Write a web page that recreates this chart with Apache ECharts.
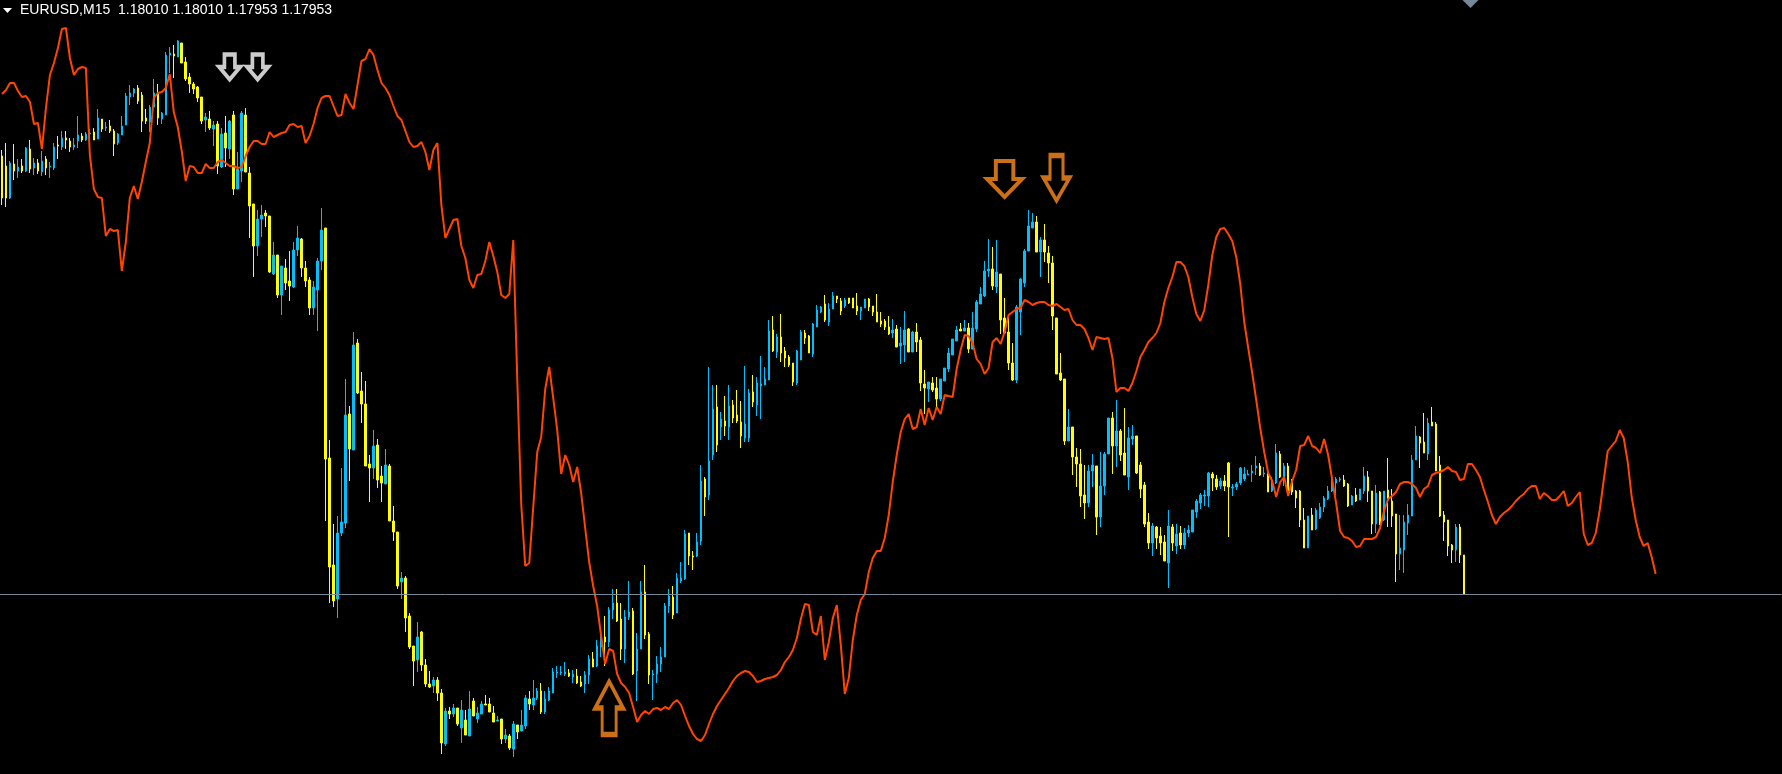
<!DOCTYPE html>
<html>
<head>
<meta charset="utf-8">
<script src="https://cdn.jsdelivr.net/npm/echarts@6/dist/echarts.min.js"></script>
<style>
  html, body { margin: 0; padding: 0; background: #000; }
  #chart { width: 1782px; height: 774px; }
</style>
</head>
<body>
<div id="chart"></div>
<script>
// Prices are stored in points (0.00001) above 1.17000.
const symbolTitle = 'EURUSD,M15  1.18010 1.18010 1.17953 1.17953';

const openPts = [1391,1381,1349,1383,1376,1381,1376,1398,1379,1384,1375,1388,1380,1379,1402,1400,1409,1406,1400,1406,1411,1407,1413,1415,1408,1428,1419,1421,1416,1404,1412,1422,1450,1454,1459,1452,1429,1425,1440,1454,1428,1432,1492,1493,1490,1504,1485,1470,1463,1460,1450,1427,1428,1418,1423,1380,1414,1398,1432,1358,1376,1432,1374,1343,1301,1328,1334,1331,1273,1292,1252,1279,1266,1260,1297,1308,1279,1267,1239,1257,1286,1319,1089,982,948,1014,1024,1133,1097,1204,1156,1143,1083,1079,1102,1071,1063,1081,1026,1015,965,969,931,901,887,915,882,863,861,867,854,803,836,833,839,819,827,811,846,828,833,843,843,834,826,828,808,811,798,822,816,821,848,842,849,856,835,847,854,874,874,873,874,870,871,865,863,872,888,881,900,910,905,937,944,928,898,930,936,876,898,955,913,872,873,883,890,941,950,934,966,968,1014,991,991,1006,1068,1052,1092,1140,1120,1126,1120,1142,1132,1125,1109,1109,1155,1142,1161,1162,1167,1217,1195,1210,1196,1190,1184,1164,1187,1214,1211,1193,1220,1235,1243,1225,1238,1251,1246,1241,1249,1249,1241,1236,1239,1248,1241,1235,1226,1226,1220,1214,1218,1201,1202,1218,1195,1215,1207,1163,1158,1164,1159,1148,1166,1178,1192,1206,1218,1216,1219,1198,1218,1243,1251,1276,1278,1260,1273,1229,1215,1184,1167,1235,1264,1296,1319,1325,1295,1307,1294,1284,1229,1174,1168,1106,1120,1090,1083,1052,1044,1076,1081,1030,1061,1093,1129,1101,1116,1094,1070,1108,1111,1082,1062,1025,1004,1020,1011,1005,984,1020,1001,1014,1002,1014,1015,1035,1044,1051,1051,1073,1068,1061,1066,1084,1059,1060,1064,1068,1072,1074,1079,1081,1073,1074,1056,1064,1093,1070,1081,1067,1056,1056,1027,999,1032,1018,1029,1040,1048,1056,1064,1067,1067,1063,1042,1052,1047,1056,1070,1056,1023,1055,1027,1057,1046,1033,993,997,1024,1031,1087,1110,1105,1093,1125,1123,1082,1032,1027,1002,997,1020,992];

const closePts = [1349,1349,1384,1376,1380,1376,1399,1378,1384,1376,1386,1379,1381,1400,1401,1409,1407,1400,1402,1412,1407,1413,1414,1407,1429,1418,1420,1416,1403,1413,1421,1451,1454,1458,1446,1426,1426,1440,1454,1429,1434,1492,1494,1491,1506,1484,1468,1463,1458,1449,1426,1430,1419,1422,1381,1413,1399,1426,1358,1378,1434,1375,1341,1301,1328,1332,1331,1275,1292,1252,1281,1264,1261,1297,1309,1279,1266,1239,1260,1286,1317,1088,980,946,1014,1025,1132,1098,1202,1154,1143,1081,1079,1101,1067,1064,1082,1026,1015,961,969,929,900,886,910,882,863,860,867,854,804,836,833,839,823,837,812,838,831,834,843,842,835,825,827,808,812,799,823,815,822,849,843,849,856,835,848,856,875,875,875,875,871,873,864,861,872,888,880,901,907,905,937,944,926,898,930,935,873,898,955,912,872,873,883,890,941,951,932,969,969,1013,991,990,1005,1066,1050,1086,1138,1102,1128,1121,1141,1129,1126,1111,1123,1154,1145,1164,1163,1168,1216,1196,1210,1194,1189,1182,1165,1196,1215,1209,1194,1223,1237,1240,1227,1238,1251,1248,1236,1247,1244,1239,1236,1240,1248,1240,1235,1225,1223,1220,1213,1217,1200,1204,1217,1195,1215,1205,1164,1159,1165,1157,1148,1168,1179,1194,1208,1217,1216,1219,1198,1219,1245,1253,1276,1278,1261,1275,1227,1214,1184,1167,1240,1268,1296,1321,1325,1295,1307,1295,1284,1231,1173,1167,1106,1120,1090,1083,1051,1044,1076,1082,1030,1061,1093,1129,1101,1116,1092,1072,1109,1111,1074,1058,1023,1004,1021,1009,1004,986,1021,1004,1013,1002,1014,1017,1037,1046,1052,1052,1074,1069,1060,1066,1061,1060,1060,1063,1079,1073,1073,1076,1081,1072,1074,1055,1067,1094,1070,1081,1056,1055,1049,1027,999,1031,1017,1037,1040,1049,1056,1066,1068,1068,1061,1041,1051,1046,1058,1071,1056,1023,1054,1023,1056,1047,1031,993,999,1025,1032,1087,1111,1104,1094,1124,1121,1076,1031,1025,1001,997,1020,992,953];

const lowPts = [1342,1340,1348,1367,1369,1374,1375,1374,1372,1373,1371,1372,1369,1377,1388,1397,1398,1395,1397,1399,1405,1406,1407,1407,1408,1415,1416,1414,1391,1402,1412,1422,1442,1450,1443,1415,1423,1415,1440,1422,1423,1432,1474,1469,1490,1484,1466,1454,1453,1445,1423,1415,1417,1401,1373,1379,1380,1388,1352,1358,1365,1375,1309,1270,1291,1310,1320,1274,1272,1249,1232,1257,1246,1259,1291,1270,1260,1232,1232,1216,1277,1026,944,940,929,1011,1019,1066,1097,1153,1124,1081,1045,1068,1059,1045,1063,1026,1006,958,948,915,898,861,875,876,860,859,854,846,793,801,828,830,821,804,812,811,831,824,833,842,835,825,826,803,804,797,790,808,816,818,837,837,847,833,833,846,854,869,872,871,870,864,863,860,854,863,880,880,890,881,900,928,925,887,884,927,872,846,898,908,863,847,864,875,890,934,928,934,964,967,982,977,990,1002,1031,1047,1087,1095,1107,1111,1107,1124,1124,1099,1105,1105,1140,1131,1128,1162,1167,1195,1189,1185,1180,1180,1161,1162,1187,1203,1194,1190,1220,1234,1225,1221,1238,1244,1232,1239,1243,1239,1232,1227,1239,1236,1231,1225,1220,1217,1212,1209,1200,1183,1185,1195,1195,1195,1156,1133,1145,1155,1140,1146,1166,1175,1192,1206,1216,1216,1194,1198,1215,1243,1250,1270,1257,1254,1213,1214,1177,1166,1164,1212,1260,1296,1319,1295,1270,1285,1264,1217,1173,1166,1102,1106,1072,1060,1040,1028,1040,1060,1012,1020,1052,1093,1073,1080,1086,1072,1057,1102,1073,1049,1020,998,991,998,992,986,959,996,993,998,998,1010,1015,1029,1038,1041,1040,1056,1057,1058,1056,1010,1051,1057,1062,1066,1072,1065,1072,1071,1070,1055,1055,1063,1069,1061,1052,1052,1039,1020,999,999,1017,1017,1028,1035,1047,1055,1052,1065,1060,1040,1042,1045,1047,1053,1045,1013,1014,1022,1026,1020,1020,965,977,974,1012,1031,1087,1079,1094,1087,1121,1076,1030,1006,991,984,985,984,953];

const highPts = [1397,1404,1386,1403,1388,1388,1400,1407,1389,1388,1396,1391,1385,1404,1411,1416,1416,1409,1409,1431,1414,1415,1418,1419,1438,1428,1425,1427,1418,1414,1431,1454,1462,1459,1462,1455,1438,1442,1468,1463,1435,1495,1500,1502,1507,1504,1490,1474,1465,1461,1450,1434,1436,1426,1426,1419,1431,1427,1436,1395,1436,1439,1380,1343,1337,1342,1337,1331,1305,1292,1281,1288,1296,1305,1321,1309,1286,1270,1266,1289,1339,1319,1107,1023,1031,1079,1168,1141,1215,1208,1175,1166,1092,1117,1108,1081,1098,1083,1041,1015,975,971,934,901,925,916,888,876,870,870,858,839,840,843,839,847,837,856,849,840,846,852,849,841,831,828,818,813,826,822,837,852,856,867,859,864,856,860,879,881,881,885,878,877,878,871,876,892,895,907,919,931,940,958,958,944,937,966,939,914,966,982,915,877,891,900,944,958,961,974,985,1017,1014,996,1014,1082,1070,1180,1162,1162,1135,1151,1162,1147,1157,1146,1181,1158,1172,1170,1191,1180,1227,1231,1213,1233,1200,1192,1184,1197,1217,1217,1212,1224,1242,1241,1252,1244,1255,1251,1249,1249,1249,1249,1254,1240,1248,1249,1241,1253,1235,1228,1231,1228,1222,1220,1236,1219,1216,1224,1210,1177,1165,1170,1170,1168,1179,1199,1208,1221,1224,1227,1224,1235,1247,1260,1286,1308,1300,1307,1273,1249,1230,1204,1242,1269,1298,1337,1334,1331,1310,1323,1301,1291,1229,1194,1168,1138,1120,1099,1098,1082,1082,1093,1081,1095,1095,1129,1135,1147,1118,1139,1120,1122,1111,1085,1065,1034,1024,1021,1020,1012,1037,1023,1023,1021,1019,1022,1037,1048,1054,1057,1075,1075,1072,1069,1072,1085,1063,1065,1080,1080,1077,1082,1091,1084,1080,1075,1070,1103,1096,1084,1084,1068,1057,1057,1039,1031,1039,1039,1044,1051,1061,1070,1070,1070,1072,1064,1052,1059,1058,1080,1076,1056,1062,1056,1056,1089,1058,1033,1032,1032,1043,1092,1121,1111,1134,1129,1140,1125,1091,1036,1027,1003,1023,1023,992];

// Orange indicator line (extends beyond the last bar)
const linePts = [1453,1457,1464,1464,1456,1450,1451,1445,1423,1424,1398,1439,1472,1484,1499,1518,1519,1489,1472,1478,1480,1479,1392,1358,1350,1349,1311,1318,1316,1317,1276,1305,1349,1361,1348,1365,1385,1404,1449,1454,1455,1459,1473,1435,1420,1396,1366,1381,1380,1374,1374,1383,1379,1379,1385,1387,1384,1381,1381,1379,1380,1391,1400,1406,1406,1403,1403,1415,1410,1412,1414,1415,1422,1423,1420,1421,1404,1411,1423,1439,1449,1451,1451,1441,1431,1432,1453,1444,1438,1462,1486,1488,1498,1492,1477,1464,1459,1452,1441,1431,1427,1416,1405,1400,1401,1405,1395,1377,1397,1404,1342,1309,1318,1327,1328,1301,1289,1267,1259,1272,1273,1286,1305,1291,1275,1252,1249,1253,1307,1167,1042,981,984,1040,1095,1110,1158,1180,1149,1117,1073,1092,1082,1065,1080,1054,1019,985,961,941,911,883,898,896,873,864,860,854,840,825,832,836,833,838,839,837,840,838,844,847,842,831,821,813,808,806,812,823,833,841,847,853,859,866,871,874,876,875,871,865,866,868,869,870,872,877,885,890,897,909,928,943,942,915,912,931,887,905,929,942,902,853,869,907,932,947,953,975,989,996,996,1009,1032,1065,1092,1115,1128,1133,1118,1120,1138,1122,1139,1127,1140,1133,1152,1151,1150,1178,1197,1212,1211,1204,1188,1183,1173,1179,1205,1209,1203,1215,1232,1235,1238,1239,1247,1245,1242,1244,1245,1245,1242,1241,1243,1240,1237,1238,1227,1222,1222,1218,1209,1197,1210,1209,1208,1209,1189,1155,1159,1159,1156,1164,1176,1190,1197,1205,1209,1214,1224,1245,1259,1270,1285,1285,1281,1270,1250,1233,1226,1237,1262,1292,1310,1318,1319,1313,1306,1290,1263,1225,1199,1174,1147,1119,1095,1074,1066,1050,1065,1070,1051,1066,1077,1101,1102,1111,1101,1099,1094,1108,1092,1068,1044,1016,1010,1009,1006,1000,1001,1008,1008,1008,1010,1019,1036,1048,1051,1055,1063,1065,1065,1063,1059,1050,1058,1061,1072,1074,1075,1077,1080,1076,1075,1067,1068,1083,1083,1077,1070,1057,1045,1032,1023,1030,1034,1037,1041,1046,1050,1053,1058,1061,1061,1048,1054,1051,1047,1047,1051,1056,1041,1044,1050,1055,1013,1002,1004,1014,1037,1067,1096,1101,1106,1117,1109,1085,1050,1027,1010,1001,1004,990,973];

// Signal arrows: [bar index, price points]
const whiteDownArrows = [[57, 1480], [64, 1480]];
const orangeDownArrowA = [[251, 1368]];
const orangeDownArrowB = [[264, 1369]];
const orangeUpArrows = [[152, 839]];

const TOTAL_BARS = 446;
const categories = Array.from({ length: TOTAL_BARS }, (_, i) => String(i));

const candleData = openPts.map((o, i) => [o, closePts[i], lowPts[i], highPts[i]]);
const lastClose = closePts[closePts.length - 1];

const BLUE = '#00BFFF';
const YELLOW = '#FFFF00';
const ORANGE_LINE = '#FF4500';
const ORANGE_ARROW = '#FF8C1E';

const downPath = 'path://M4,0 L12,0 L12,11 L16,11 L8,22 L0,11 L4,11 Z';
const upPath = 'path://M8,0 L16,11 L12,11 L12,22 L4,22 L4,11 L0,11 Z';

const chart = echarts.init(document.getElementById('chart'), null, { renderer: 'canvas' });
chart.setOption({
  backgroundColor: '#000000',
  animation: false,
  grid: { left: -2.5, top: 0, width: TOTAL_BARS * 4, height: 774, containLabel: false },
  xAxis: {
    type: 'category', data: categories, boundaryGap: true, show: false
  },
  yAxis: {
    type: 'value', min: 773, max: 1547, show: false, scale: true,
    splitLine: { show: false }
  },
  graphic: [
    { type: 'polygon', shape: { points: [[3, 8], [12, 8], [7.5, 13]] }, style: { fill: '#ffffff' }, z: 100 },
    { type: 'text', x: 20, y: 3, style: { text: symbolTitle, fill: '#ffffff', font: '14px "Liberation Sans", Arial, sans-serif', textVerticalAlign: 'top' }, z: 100 },
    { type: 'polygon', shape: { points: [[1462.5, 0], [1478.5, 0], [1470.5, 8]] }, style: { fill: '#778899' }, z: 100 }
  ],
  series: [
    {
      type: 'candlestick',
      data: candleData,
      barWidth: 2,
      itemStyle: {
        color: BLUE, color0: YELLOW,
        borderColor: BLUE, borderColor0: YELLOW,
        borderWidth: 1
      },
      markLine: {
        silent: true, symbol: 'none', animation: false,
        label: { show: false },
        lineStyle: { color: '#778899', width: 1, type: 'solid' },
        data: [{ yAxis: lastClose }]
      },
      z: 2
    },
    {
      type: 'line',
      data: linePts,
      showSymbol: false, symbol: 'none',
      lineStyle: { color: ORANGE_LINE, width: 2 },
      z: 3
    },
    {
      type: 'scatter', data: whiteDownArrows, symbol: downPath, symbolSize: [21, 25],
      itemStyle: { color: '#000000', borderColor: '#ffffff', borderWidth: 4 }, z: 5
    },
    {
      type: 'scatter', data: orangeDownArrowA, symbol: downPath, symbolSize: [35, 36],
      itemStyle: { color: '#000000', borderColor: ORANGE_ARROW, borderWidth: 4 }, z: 5
    },
    {
      type: 'scatter', data: orangeDownArrowB, symbol: downPath, symbolSize: [26, 45],
      itemStyle: { color: '#000000', borderColor: ORANGE_ARROW, borderWidth: 4 }, z: 5
    },
    {
      type: 'scatter', data: orangeUpArrows, symbol: upPath, symbolSize: [28, 53],
      itemStyle: { color: '#000000', borderColor: ORANGE_ARROW, borderWidth: 4 }, z: 5
    }
  ]
});
</script>
</body>
</html>
